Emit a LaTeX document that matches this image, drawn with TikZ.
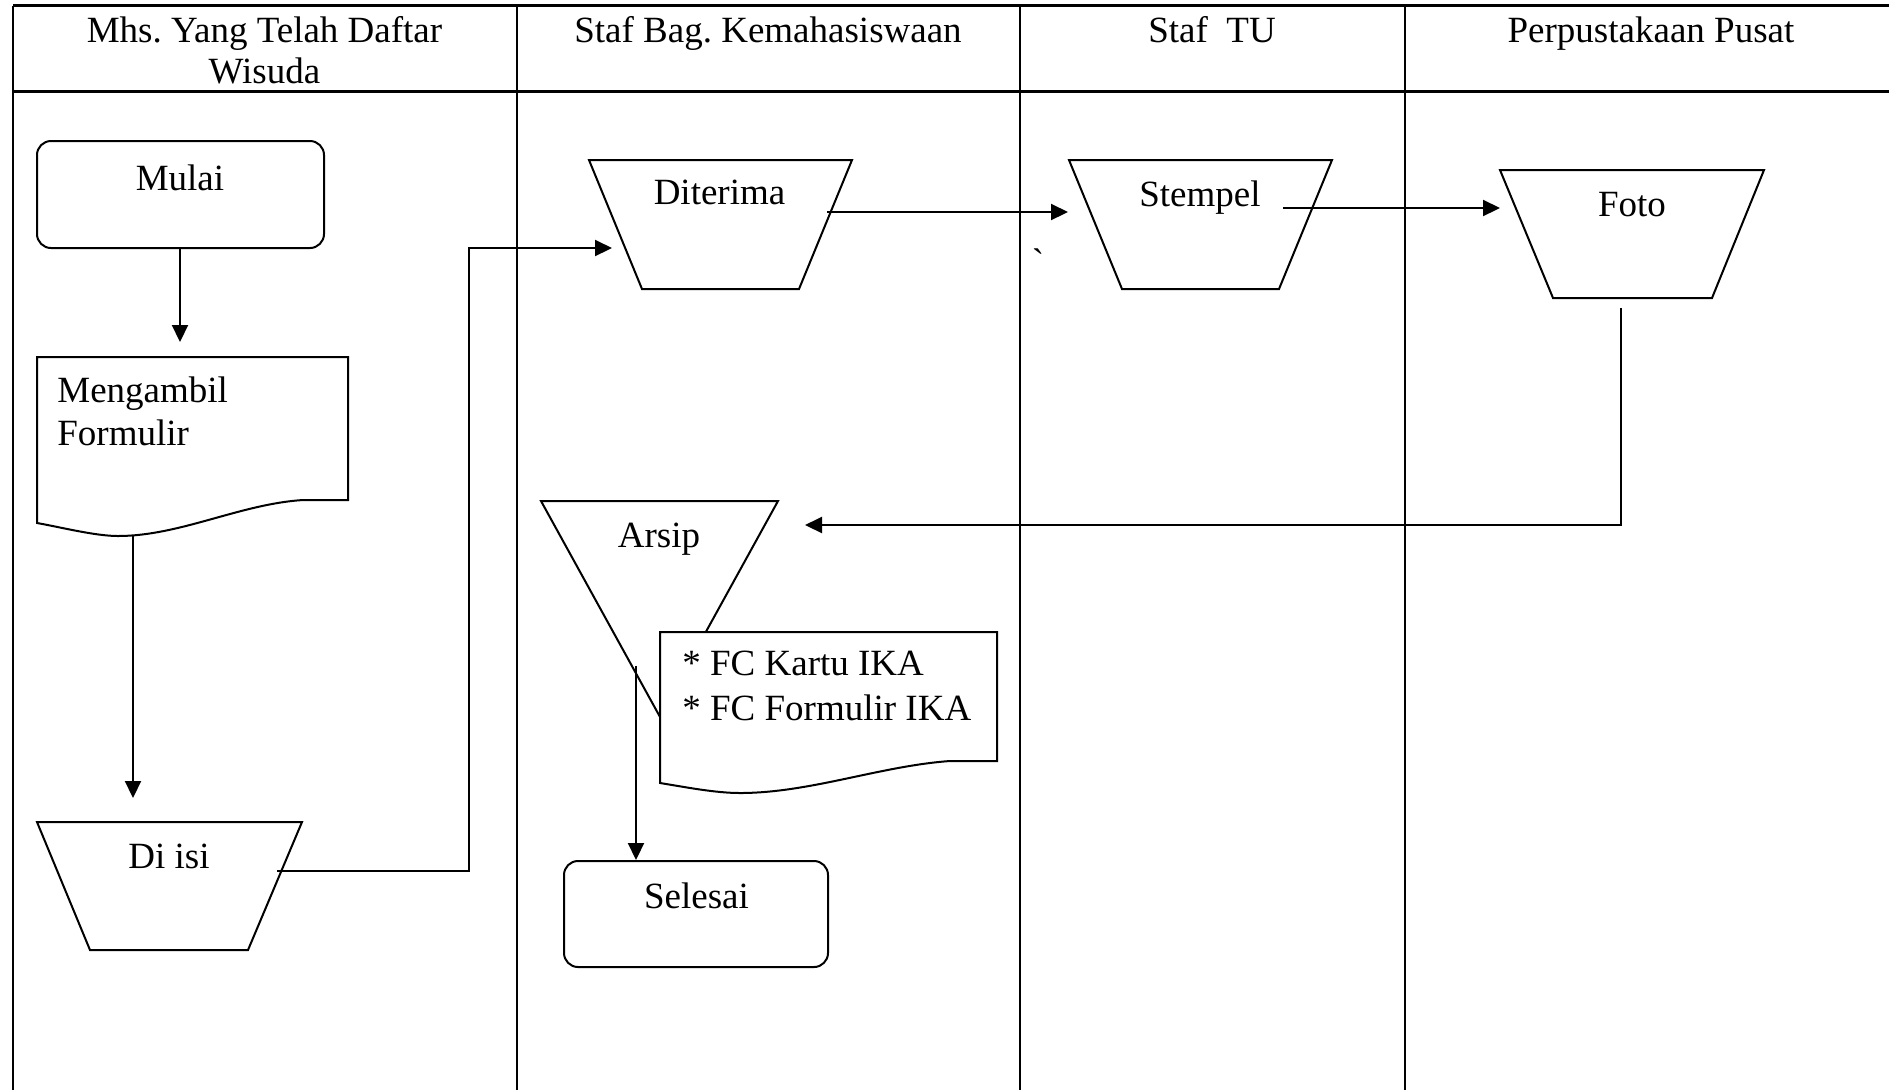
\documentclass[tikz,border=0pt]{standalone}
\usepackage{fontspec}
\setmainfont{Liberation Serif}
\newfontfamily\gravefont{Liberation Serif}[Ligatures=TeXOff]
\usetikzlibrary{arrows.meta}
\frenchspacing
\begin{document}
\begin{tikzpicture}[x=0.5pt,y=-0.5pt,
  lane/.style={line width=1.1pt},
  hline/.style={line width=1.5pt},
  shp/.style={line width=1pt, line join=miter},
  conn/.style={line width=1.05pt},
  arr/.style={conn,-{Triangle[length=8.5pt,width=8pt]}},
  txt/.style={anchor=base, inner sep=0pt, font=\fontsize{18.5}{21.25}\selectfont},
  ltxt/.style={txt, anchor=base west},
  term/.style={draw, shp, rounded corners=7pt, inner sep=0pt},
]
\useasboundingbox (0,0) rectangle (1889,1089);
% swimlane table
\begin{scope}
\clip (0,0) rectangle (1889,1089);
\draw[hline] (13,5.5) -- (1920,5.5);
\draw[hline] (13,91.5) -- (1920,91.5);
\foreach \x in {13,517,1020,1405} \draw[lane] (\x,5.5) -- (\x,1100);
\end{scope}
% headers
\node[txt] (h1a) at (264.5,42) {Mhs. Yang Telah Daftar};
\node[txt] (h1b) at (264.5,83) {Wisuda};
\node[txt] (h2) at (768,42) {Staf Bag. Kemahasiswaan};
\node[txt] (h3) at (1212,42) {Staf\ \ TU};
\node[txt] (h4) at (1651,42) {Perpustakaan Pusat};
% Mulai
\node[term, minimum width=143.5pt, minimum height=53.5pt] (mulai) at (180.5,194.5) {};
\node[txt] (mulaiT) at (180,190) {Mulai};
% Mengambil formulir (document)
\draw[shp] (37,357) -- (348,357) -- (348,500) -- (303,500)
  .. controls (240,504) and (180,536) .. (118,536)
  .. controls (95,536) and (60,527) .. (37,523) -- cycle;
\coordinate (mengTop) at (180,342);
\coordinate (mengBot) at (133,536);
\node[ltxt] (mengT1) at (57,402) {Mengambil};
\node[ltxt] (mengT2) at (57,445) {Formulir};
% Di isi
\draw[shp] (37,822) -- (302,822) -- (248,950) -- (90,950) -- cycle;
\coordinate (diisiTop) at (133,798);
\coordinate (diisiOut) at (277,871);
\node[txt] (diisiT) at (169,868) {Di isi};
% Diterima
\draw[shp] (589,160) -- (852,160) -- (799,289) -- (642,289) -- cycle;
\coordinate (diterimaIn) at (612,248);
\coordinate (diterimaOut) at (827,212);
\node[txt] (diterimaT) at (719.5,204) {Diterima};
% Stempel
\draw[shp] (1069,160) -- (1332,160) -- (1279,289) -- (1122,289) -- cycle;
\coordinate (stempelIn) at (1068,212);
\coordinate (stempelOut) at (1283,208);
\node[txt] (stempelT) at (1200,206) {Stempel};
\node[txt] (grave) at (1038,274) {\gravefont\symbol{96}};
% Foto
\draw[shp] (1500,170) -- (1764,170) -- (1712,298) -- (1553,298) -- cycle;
\coordinate (fotoIn) at (1500,208);
\coordinate (fotoOut) at (1621,308);
\node[txt] (fotoT) at (1632,216) {Foto};
% Arsip
\draw[shp] (541,501) -- (778,501) -- (659.5,716) -- cycle;
\coordinate (arsipIn) at (805,525);
\coordinate (arsipOut) at (636,666);
\node[txt] (arsipT) at (659,547) {Arsip};
% FC document
\draw[shp, fill=white] (660,632) -- (997,632) -- (997,761) -- (950,761)
  .. controls (880,766) and (810,793) .. (740,793)
  .. controls (715,793) and (685,787) .. (660,783) -- cycle;
\node[ltxt] (fc1) at (682,675) {* FC Kartu IKA};
\node[ltxt] (fc2) at (682,720) {* FC Formulir IKA};
% Selesai
\node[term, minimum width=132pt, minimum height=53pt] (selesai) at (696,914) {};
\node[txt] (selesaiT) at (696.5,908) {Selesai};
% connectors
\draw[arr] (mulai.south -| mengTop) -- (mengTop);
\draw[arr] (mengBot) -- (diisiTop);
\draw[arr] (diisiOut) -- (469,871) -- (469,248) -- (diterimaIn);
\draw[arr] (diterimaOut) -- (stempelIn);
\draw[arr] (stempelOut) -- (fotoIn);
\draw[arr] (fotoOut) -- (1621,525) -- (arsipIn);
\draw[arr] (arsipOut) -- (arsipOut |- selesai.north);
\end{tikzpicture}
\end{document}
